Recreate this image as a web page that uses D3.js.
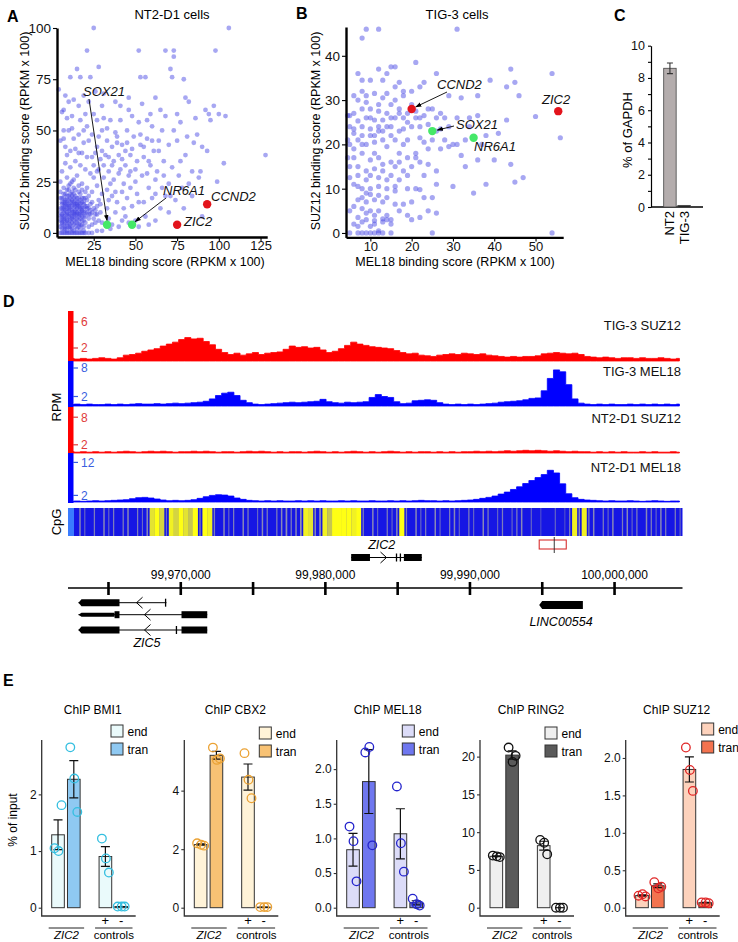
<!DOCTYPE html>
<html><head><meta charset="utf-8">
<script src="https://cdn.jsdelivr.net/npm/d3@7/dist/d3.min.js"></script>
<style>
html,body{margin:0;padding:0;background:#fff;}
svg{display:block;font-family:"Liberation Sans",Arial,Helvetica,sans-serif;}
</style></head><body>
<svg id="fig" width="738" height="942"></svg>
<script>
// ================= DATA =================
// Panel A: NT2-D1 cells, MEL18 score (x) vs SUZ12 score (y)
const nt2Points = [[25,100],[106,100],[21,89],[52,89],[68,89],[73,89],[98,89],[73,86],[71,80],[79,75],[28,81],[15,80],[11,76],[17,76],[23,76],[53,76],[56,76],[72,76],[4,70],[10,64],[13,65],[7,60],[22,64],[26,69],[30,62],[38,64],[46,60],[54,63],[62,66],[68,57],[80,66],[82,64],[92,60],[94,58],[100,58],[97,62],[104,57],[86,56],[77,54],[73,50],[66,50],[60,52],[57,55],[52,54],[48,57],[41,55],[35,55],[31,56],[27,55],[25,58],[20,58],[17,55],[12,57],[9,56],[6,59],[128,38],[103,34],[90,42],[87,48],[81,47],[75,45],[70,43],[64,45],[61,40],[57,46],[53,43],[49,47],[45,50],[42,43],[39,47],[36,42],[33,45],[30,50],[28,47],[24,48],[22,45],[19,50],[16,48],[13,46],[10,50],[7,50],[5,45],[8,42],[11,40],[14,41],[18,39],[21,37],[26,39],[29,36],[34,37],[37,35],[40,38],[44,33],[47,38],[51,35],[55,37],[59,33],[63,30],[67,35],[72,32],[76,28],[80,38],[84,30],[88,27],[78,22],[70,24],[66,22],[62,26],[58,22],[54,28],[50,25],[46,28],[43,24],[40,29],[37,26],[34,30],[31,27],[28,31],[25,33],[23,29],[20,31],[17,33],[14,35],[11,32],[8,34],[6,30],[5,25],[9,27],[12,25],[15,28],[18,24],[21,22],[24,20],[27,23],[30,19],[33,21],[36,18],[39,15],[42,20],[45,17],[48,13],[51,19],[55,15],[60,17],[65,12],[70,10],[56,8],[44,8],[38,10],[33,12],[29,14],[26,11],[23,9],[21,13],[19,17],[16,20],[13,22],[10,21],[7,19],[5,17],
[5,12],[6,14],[7,10],[8,15],[9,12],[10,16],[11,9],[12,13],[13,17],[14,11],[15,14],[16,8],[17,12],[18,15],[19,10],[20,13],[5,8],[6,6],[7,4],[8,9],[9,7],[10,5],[11,11],[12,8],[13,6],[14,9],[15,5],[16,11],[17,7],[18,4],[19,6],[20,8],[21,10],[22,7],[5,3],[6,2],[7,7],[8,5],[9,3],[10,8],[11,4],[12,2],[13,10],[14,3],[15,9],[16,4],[17,2],[18,8],[19,3],[20,5],[6,17],[7,13],[8,11],[9,18],[10,13],[11,15],[12,18],[13,14],[14,16],[15,12],[16,15],[17,16],[18,11],[19,14],[21,16],[22,12],[23,14],[24,10],[25,7],[26,5],[27,9],[28,6],[24,4],[22,3],
[5,0],[6,0],[7,0],[8,0],[9,0],[10,0],[11,0],[12,0],[13,0],[14,0],[15,0],[16,0],[17,0],[18,0],[19,0],[20,0],[22,0],[24,0],[27,1],[30,1],[35,2],[40,3],[42,6],[46,5],[50,6],[52,3],[58,4],[62,6],[30,5],[34,7],[36,4],
[95,55],[85,44],[93,40],[89,30],[99,25],[84,18],[74,16],[68,18],[79,12],[90,8],[64,40],[57,29],[47,22],[35,24],[31,33],[42,36],[48,41],[53,48],[27,42],[33,51],[38,49],[24,37],[19,44],[16,39],[9,38],[7,46],[12,51],[21,52],[75,58],[65,60],[59,58],[46,66],[41,62],[31,68],[19,67],[16,62],[8,67],
[6,9],[7,11],[8,13],[9,9],[10,11],[11,13],[12,10],[13,12],[14,14],[15,10],[16,13],[17,10],[8,7],[10,3],[12,5],[14,7],[16,6],[18,6],[7,15],[9,14],[11,17],[13,19],[15,17],[17,19],[10,18],[12,15],[14,13],[9,5],[11,6],[13,4],[7,2],[9,1],[11,2],[13,1],[15,2],[17,4],[19,1],[6,5],[8,3],
[5,10],[6,12],[7,8],[8,14],[9,10],[10,12],[11,7],[12,11],[13,15],[14,10],[15,13],[16,9],[17,14],[18,12],[19,8],[6,4],[7,6],[8,2],[9,6],[10,9],[11,3],[12,7],[13,9],[14,5],[15,7],[16,3],[17,9],[18,10],[19,12],[20,10],[5,6],[6,8],[7,12],[8,16],[9,16],[10,14],[11,19],[12,16],[13,8],[14,18],[15,15],[16,17],[17,13],[18,17],[19,15],[20,17],[21,12],[22,9],[23,11],[6,15],[7,17],[8,19],[9,21],[10,23],[12,20],[14,21],[16,23],[18,21],[11,24],[13,26],[7,22],[5,20],[20,20],[22,18],[24,15],[25,12],[26,9],[27,13],[28,16],[29,10],
[32,38],[36,33],[41,31],[44,40],[50,31],[55,42],[60,45],[34,16],[38,20],[43,12],[47,30],[52,15],[58,35],[62,19],[67,28],[71,18],[77,35],[82,24],[25,27],[30,40],[27,30],[39,44],[45,44]];
const nt2Marked = [{gene:"SOX21",x:33,y:4,group:"green"},{gene:"NR6A1",x:48,y:4,group:"green"},{gene:"ZIC2",x:75,y:4,group:"red"},{gene:"CCND2",x:93,y:14,group:"red"}];

// Panel B: TIG-3 cells
const tig3Points = [[9,46],[12,46],[31,46],[8,44],[21,38.5],[15,37.5],[16,37.5],[14,36],[12,37],[7,36],[8,34.5],[13,34.5],[10,34.5],[17,34],[23,34],[26,36],[44,37],[54,36],[45,34],[39,34.5],[43,33],[46,31],[29,31],[36,31],[22,33],[20,32],[18,32],[11,31.5],[9,31],[6,31],[13,30.5],[16,30],[15,29],[10,28],[12,27.5],[17,28],[8,28],[6,27],[5,26.5],[7,25.3],[9,26],[11,25.5],[13,25.5],[14,27],[16,26],[18,26],[21,26],[22,26],[23,26.5],[24,28],[25,28],[21,27.5],[27,27],[31,26],[36,26.5],[34,24],[29,24],[24,24.5],[26,23],[20,24],[18,23.5],[15,24],[12,24],[10,23.5],[8,22],[6,22.5],[4.5,21],[5,20],[7,21],[9,20],[11,20.5],[13,21],[14,19.5],[16,21],[18,20],[19,21],[22,21.5],[23,20.5],[28,21],[30,20],[29,19.5],[33,21],[31,20],[50,26.3],[56,21.5],[43,25.5],[41,22.5],[38,22],[27,19],[32,17.5],[33,15],[36,16.5],[37,20],[24,19],[21,18],[17,18],[15,16],[12,17],[10,16.5],[8,18],[6,17],[4.5,17],[5,15],[7,15],[9,14],[11,14.5],[13,14],[16,15],[18,14],[20,15],[22,16],[24,15.5],[26,14],[23,13],[19,13],[17,12],[14,12],[12,12.5],[9,12],[7,13],[5,12.5],[6,11],[8,10],[10,10],[12,10.5],[14,10],[16,9.5],[19,10],[21,10],[22,9.8],[26,11],[30,10.5],[38,11],[45,11.5],[47,12.5],[44,15.5],[40,16.5],[35,9],[25,8],[23,8],[20,7],[18,6.5],[16,6.5],[13,7],[11,7.5],[9,7],[7,7.5],[6,6],[5,5],[8,5.5],[10,5],[12,5],[14,4],[17,5],[19,4],[24,5],[26,4.5],[22,3.5],[20,3],[15,3],[13,3.2],[11,2.8],[9,3],[8,2.5],[7,3.5],[9,4.5],[11,2],[13,2.5],[15,2],[14,3],[7,1.5],[6,2],[5,0],[7,0],[8,0],[9,0],[10,0],[11,0],[12,0],[13,0],[15,0],[25,0],[54,0],[10,1.5],[12,0.5],[11,4],[9,9],[7,10.5],[10,13],[13,15.5],[15,13],[17,16],[19,17],[21,17],[11,18],[6,19],[8,24],[10,26],[12,29],[14,31.5],[16,33],[18,31],[20,29],[11,22],[13,23],[15,22],[17,23],[19,25],[9,29.5],[8,32],[7,30],[6,23.5],[5,24],[4.5,26.5],[32,30.5],[34,26],[28,26],[25,21],[27,23.5],[26,26],[22,24],[19,27],[17,27],[15,26],[14,24],[12,23],[10,22],[8,20],[16,10.5],[14,8],[12,8.5],[10,8.7],[8,8]];
const tig3Marked = [{gene:"CCND2",x:20,y:28,group:"red"},{gene:"SOX21",x:25,y:23,group:"green"},{gene:"NR6A1",x:35,y:21.5,group:"green"},{gene:"ZIC2",x:55.5,y:27.5,group:"red"}];

const scatterXTicksA = [25,50,75,100,125];
const scatterYTicksA = [0,25,50,75,100];
const scatterXTicksB = [10,20,30,40,50];
const scatterYTicksB = [0,10,20,30,40];

// Panel C: ZIC2 expression
const gapdhCells = ["NT2","TIG-3"];
const gapdhValues = [8.6, 0.1];
const gapdhErrors = [0.33, 0];
const gapdhTicks = [0,1,2,3,4,5,6,7,8,9,10];

// Panel D: genome tracks (RPM per 425-bp bin)
const regionStart = 99962200, regionEnd = 100004700;
const trackNames = ["TIG-3 SUZ12","TIG-3 MEL18","NT2-D1 SUZ12","NT2-D1 MEL18"];
const trackTicks = [[2,6],[2,8],[2,8],[2,12]];
const tig3Suz12 = [0.4,0.3,0.4,0.3,0.4,0.5,0.4,0.3,0.5,0.9,1.0,1.2,1.5,1.7,1.9,2.3,2.6,2.9,3.3,3.6,3.4,3.5,3.0,2.5,1.8,1.3,1.0,1.2,0.9,1.1,1.3,1.0,1.2,1.3,1.4,1.8,2.3,2.1,2.2,2.0,2.1,1.7,1.3,1.5,1.9,2.4,2.9,2.6,2.4,2.2,2.1,2.0,1.9,1.6,1.3,1.1,1.2,0.9,0.8,0.7,0.9,1.0,1.1,1.0,1.2,1.1,1.0,1.1,0.9,0.8,0.7,0.6,0.7,0.6,0.7,0.7,0.8,1.1,1.2,1.3,1.2,1.1,1.2,1.0,0.7,0.6,0.5,0.6,0.5,0.4,0.5,0.5,0.4,0.5,0.4,0.4,0.5,0.4,0.3,0.4];
const tig3Mel18 = [0.3,0.4,0.3,0.4,0.3,0.3,0.4,0.3,0.4,0.3,0.4,0.5,0.4,0.4,0.5,0.4,0.5,0.6,0.5,0.6,0.7,0.8,1.0,1.5,2.2,2.7,2.9,2.2,1.2,0.7,0.4,0.3,0.4,0.5,0.6,0.7,0.8,0.7,0.8,0.9,1.0,1.4,0.9,0.7,0.6,0.8,0.7,0.8,0.9,1.8,2.4,2.0,1.8,0.9,0.5,0.6,1.1,1.2,1.3,1.2,0.7,0.4,0.3,0.4,0.3,0.4,0.3,0.4,0.5,0.6,0.8,0.9,1.0,1.1,1.3,1.6,1.7,3.2,5.8,7.6,7.2,4.5,1.5,0.6,0.4,0.3,0.4,0.3,0.4,0.3,0.3,0.4,0.3,0.4,0.3,0.4,0.3,0.4,0.3,0.4];
const nt2Suz12 = [0.5,0.4,0.5,0.4,0.5,0.4,0.5,0.4,0.5,0.6,0.5,0.4,0.5,0.6,0.5,0.6,0.5,0.4,0.5,0.5,0.6,0.5,0.6,0.5,0.4,0.5,0.5,0.4,0.5,0.6,0.5,0.6,0.5,0.4,0.5,0.4,0.5,0.5,0.4,0.5,0.6,0.5,0.4,0.5,0.4,0.5,0.6,0.5,0.4,0.5,0.4,0.5,0.6,0.5,0.4,0.5,0.4,0.5,0.5,0.4,0.5,0.4,0.5,0.4,0.5,0.5,0.6,0.5,0.6,0.5,0.6,0.7,0.6,0.7,0.8,0.7,0.8,0.7,0.6,0.7,0.6,0.5,0.6,0.5,0.5,0.4,0.5,0.4,0.5,0.4,0.5,0.4,0.4,0.5,0.4,0.5,0.4,0.4,0.5,0.4];
const nt2Mel18 = [0.2,0.3,0.2,0.3,0.4,0.3,0.4,0.5,0.6,0.7,1.0,1.3,1.4,1.2,0.9,0.6,0.4,0.5,0.4,0.5,0.7,1.1,1.6,2.0,2.2,2.1,1.8,1.2,0.8,0.5,0.4,0.3,0.4,0.3,0.4,0.3,0.3,0.4,0.3,0.4,0.3,0.4,0.3,0.3,0.4,0.3,0.4,0.3,0.3,0.4,0.3,0.3,0.4,0.3,0.4,0.3,0.4,0.5,0.4,0.4,0.3,0.4,0.3,0.4,0.5,0.6,0.8,1.1,1.4,1.8,2.4,3.0,3.8,4.6,5.6,6.5,7.4,8.3,9.6,8.8,5.5,2.5,1.3,0.8,0.6,0.5,0.4,0.3,0.4,0.3,0.3,0.4,0.3,0.2,0.3,0.4,0.3,0.2,0.3,0.3];
// CpG density per 332-bp bin (0 = none, 1 = high)
const cpgDensity = [0.3,0,0.4,0.2,0,0.3,0,0.4,0.2,0.3,0,0.3,0.4,0,0.3,0.2,0.4,0.8,1,0.7,0.2,0.9,0.7,1,0.8,0.6,1,0.3,1,0.9,0.3,0,0.4,0.2,0.3,0,0.4,0.3,0,0.2,0.4,0.3,0,0.3,0.4,0.5,0.3,0.4,0.5,0.9,0.8,0.4,0.5,0.9,0.6,1,1,1,1,0.9,1,0.3,0,0.4,0.2,0,0.3,0.2,0.4,1,0.3,0,0.4,0.2,0.3,0,0.4,0.2,0,0.3,0.4,0.2,0,0.3,0.2,0,0.4,0.3,0,0.2,0.3,0,0.2,0.3,0.4,0,0.2,0,0.1,0,0,0.2,0,0.1,0.3,0.9,0.4,0.9,0.3,0.4,0,0.3,0.2,0.4,0,0.3,0.4,0.2,0.3,0,0.4,0.3,0.2,0.4,0.3,0,0.3,0.2];
const genomicTicks = [99965000,99970000,99975000,99980000,99985000,99990000,99995000,100000000];
const genomicLabels = [99970000,99980000,99990000,100000000];
const zic2Gene = {name:"ZIC2", strand:"+", intronMark:99984020, exons:[[99981784,99983085],[99984920,99985070],[99985190,99985320],[99985430,99986667]]};
const zic5Transcripts = [
  {strand:"-", intronMark:99967150, exons:[[99962925,99965760],[99968950,99969010]]},
  {strand:"-", intronMark:99967700, utr:[99962925,99965420], exons:[[99965420,99965760],[99970050,99971830]]},
  {strand:"-", intronMark:99967700, exons:[[99962925,99965760],[99969700,99969750],[99970050,99971830]]}
];
const lincGene = {name:"LINC00554", exons:[[99994790,99997810]]};
const ampliconRegion = [99994790, 99996660];
const ampliconCenter = 99995830;

// Panel E: ChIP-qPCR, % of input, 3 replicates per group [ZIC2 end, ZIC2 tran, control +, control -]
const chipTargets = ["BMI1","CBX2","MEL18","RING2","SUZ12"];
const bmi1Reps  = [[1.05,1.0,1.81],[2.83,2.28,1.69],[1.22,0.87,0.62],[0.02,0.02,0.02]];
const cbx2Reps  = [[2.2,2.15,2.12],[5.47,5.05,5.1],[5.28,4.37,3.74],[0.02,0.02,0.02]];
const mel18Reps = [[1.17,0.96,0.38],[2.24,2.32,0.9],[1.75,0.93,0.52],[0.13,0.05,0.03]];
const ring2Reps = [[6.9,6.8,6.7],[21.2,19.3,20.1],[8.97,8.6,7.07],[0.0,0.0,0.0]];
const suz12Reps = [[0.16,0.18,0.15],[0.34,0.26,0.28],[2.14,1.84,1.56],[0.07,0.07,0.06]];
const bmi1Ticks = [0,1,2], cbx2Ticks = [0,2,4], mel18Ticks = [0,0.5,1,1.5,2], ring2Ticks = [0,5,10,15,20], suz12Ticks = [0,0.5,1,1.5,2];
const chipAxisMax = [2.96, 5.73, 2.42, 22.2, 2.24];
const legendLabels = ["end","tran"];

// ================= DRAWING =================
const FONT = '"Liberation Sans",Arial,Helvetica,sans-serif';
const svg = d3.select("#fig");
const defs = svg.append("defs");
defs.append("marker").attr("id","arr").attr("viewBox","0 0 10 10").attr("refX",9).attr("refY",5)
  .attr("markerWidth",7).attr("markerHeight",7).attr("orient","auto")
  .append("path").attr("d","M0,1.5L10,5L0,8.5Z").attr("fill","#000");

function styleAxis(a, fs, domainW, color){
  a.attr("font-family",FONT).attr("font-size",fs);
  a.select(".domain").attr("stroke",color||"#000").attr("stroke-width",domainW);
  a.selectAll(".tick line").attr("stroke",color||"#000").attr("stroke-width",1.1);
  a.selectAll(".tick text").attr("fill","#111");
}
function panelLetter(t,x,y){
  svg.append("text").attr("x",x).attr("y",y).text(t).attr("font-weight","bold").attr("font-size",16).attr("fill","#000");
}

// ---------- scatter panels ----------
const markColor = {red:"#e3141c", green:"#45e868"};
function scatter(cfg){
  const g = svg.append("g");
  const x = d3.scaleLinear().domain(cfg.xDomain).range(cfg.xRange);
  const y = d3.scaleLinear().domain(cfg.yDomain).range(cfg.yRange);
  g.append("g").selectAll("circle").data(cfg.points).join("circle")
    .attr("cx",d=>x(d[0])).attr("cy",d=>y(d[1])).attr("r",cfg.r)
    .attr("fill","rgb(72,72,228)").attr("fill-opacity",0.48);
  const ya = g.append("g").attr("transform",`translate(${cfg.xRange[0]},0)`)
    .call(d3.axisLeft(y).tickValues(cfg.yTicks).tickSize(4).tickSizeOuter(0).tickPadding(2));
  const xa = g.append("g").attr("transform",`translate(0,${cfg.yRange[0]})`)
    .call(d3.axisBottom(x).tickValues(cfg.xTicks).tickSize(4).tickSizeOuter(0).tickPadding(0));
  styleAxis(ya,13.5,2.4); styleAxis(xa,13,2.4);
  cfg.marked.forEach(m=>{
    const L = cfg.labels[m.gene];
    if(L.line){
      g.append("line").attr("x1",L.line[0]).attr("y1",L.line[1]).attr("x2",x(m.x)+L.end[0]).attr("y2",y(m.y)+L.end[1])
        .attr("stroke","#000").attr("stroke-width",0.9).attr("marker-end","url(#arr)");
    }
    g.append("text").attr("x",L.tx).attr("y",L.ty).text(m.gene).attr("font-style","italic").attr("font-size",13).attr("fill","#111");
  });
  g.append("g").selectAll("circle").data(cfg.marked).join("circle")
    .attr("cx",d=>x(d.x)).attr("cy",d=>y(d.y)).attr("r",4.2).attr("fill",d=>markColor[d.group]);
  g.append("text").attr("x",cfg.titleX).attr("y",19).attr("text-anchor","middle").attr("font-size",13).text(cfg.title);
  g.append("text").attr("transform",`translate(${cfg.yLabelX},131) rotate(-90)`).attr("text-anchor","middle").attr("font-size",12.5).text("SUZ12 binding score (RPKM x 100)");
  g.append("text").attr("x",cfg.xLabelX).attr("y",265.5).attr("text-anchor","middle").attr("font-size",12.5).text("MEL18 binding score (RPKM x 100)");
}
scatter({points:nt2Points, marked:nt2Marked, xDomain:[3,129], xRange:[57,267.2], yDomain:[-2,100], yRange:[237,28],
  xTicks:scatterXTicksA, yTicks:scatterYTicksA, r:2.4, title:"NT2-D1 cells", titleX:172, yLabelX:29, xLabelX:165,
  labels:{SOX21:{tx:83,ty:96,line:[89,99],end:[0,-4]}, NR6A1:{tx:163,ty:195,line:[166,198],end:[3,-3]},
          CCND2:{tx:211,ty:201}, ZIC2:{tx:184,ty:226}}});
scatter({points:tig3Points, marked:tig3Marked, xDomain:[4.1,56.7], xRange:[346,563.2], yDomain:[-1,46.5], yRange:[237.4,27],
  xTicks:scatterXTicksB, yTicks:scatterYTicksB, r:2.6, title:"TIG-3 cells", titleX:457, yLabelX:320, xLabelX:455,
  labels:{CCND2:{tx:437,ty:89,line:[447,92],end:[4,-2]}, SOX21:{tx:456,ty:129,line:[454,126],end:[5,-1]},
          NR6A1:{tx:474,ty:151}, ZIC2:{tx:542,ty:104}}});
panelLetter("A",7,22); panelLetter("B",296,19); panelLetter("C",614,21);

// ---------- panel C ----------
(function(){
  const g = svg.append("g");
  const y = d3.scaleLinear().domain([0,10]).range([207,45.7]);
  const x = d3.scaleBand().domain(gapdhCells).range([663,691]).paddingInner(0.12).paddingOuter(0.05);
  const ya = g.append("g").attr("transform","translate(651,0)")
    .call(d3.axisLeft(y).tickValues(gapdhTicks).tickSize(3).tickSizeOuter(0).tickFormat(d=>d%2===0?d:""));
  styleAxis(ya,12.5,1.2);
  g.append("line").attr("x1",651).attr("x2",703).attr("y1",207).attr("y2",207).attr("stroke","#000").attr("stroke-width",1.3);
  g.selectAll("rect").data(gapdhValues).join("rect")
    .attr("x",(d,i)=>x(gapdhCells[i])).attr("width",x.bandwidth())
    .attr("y",d=>y(d)).attr("height",d=>207-y(d))
    .attr("fill",(d,i)=>i===0?"#b4adad":"#111").attr("stroke","#444").attr("stroke-width",0.8);
  gapdhValues.forEach((v,i)=>{
    if(!gapdhErrors[i]) return;
    const cx = x(gapdhCells[i])+x.bandwidth()/2;
    g.append("path").attr("d",`M${cx},${y(v-gapdhErrors[i])}V${y(v+gapdhErrors[i])}M${cx-3},${y(v-gapdhErrors[i])}H${cx+3}M${cx-3},${y(v+gapdhErrors[i])}H${cx+3}`)
      .attr("stroke","#333").attr("stroke-width",1.1).attr("fill","none");
  });
  gapdhCells.forEach(c=>{
    g.append("text").attr("transform",`translate(${x(c)+x.bandwidth()/2+4.5},211) rotate(-90)`).attr("text-anchor","end").attr("font-size",13).text(c);
  });
  g.append("text").attr("transform","translate(632,130) rotate(-90)").attr("text-anchor","middle").attr("font-size",13).text("% of GAPDH");
})();

// ---------- panel D ----------
panelLetter("D",3,307);
const gx = d3.scaleLinear().domain([regionStart,regionEnd]).range([68,682.5]);
(function(){
  const g = svg.append("g");
  const tracks = [tig3Suz12,tig3Mel18,nt2Suz12,nt2Mel18];
  const lay = [
    {top:311,bottom:361,base:361,ppu:6.5, color:"#ff0000", tcol:"#e03a3a", labelY:330},
    {top:361,bottom:407,base:406,ppu:4.75,color:"#0000ff", tcol:"#3a5ee0", labelY:375.5},
    {top:407,bottom:453,base:454,ppu:4.6, color:"#ff0000", tcol:"#e03a3a", labelY:423},
    {top:453,bottom:503,base:502,ppu:3.3, color:"#0000ff", tcol:"#3a5ee0", labelY:472}];
  const bin = (regionEnd-regionStart)/100;
  tracks.forEach((vals,k)=>{
    const L = lay[k];
    const y = d3.scaleLinear().domain([0,1]).range([L.base, L.base-L.ppu]);
    const area = d3.area().x((d,i)=>gx(regionStart+(i+0.5)*bin)).y0(Math.min(L.base,L.bottom)).y1(d=>y(d)).curve(d3.curveStep);
    g.append("path").datum(vals).attr("d",area).attr("fill",L.color).attr("stroke",L.color).attr("stroke-width",0.8);
    g.append("rect").attr("x",68).attr("y",L.top).attr("width",5.5).attr("height",L.bottom-L.top).attr("fill",L.color);
    trackTicks[k].forEach(t=>{
      g.append("line").attr("x1",73).attr("x2",78).attr("y1",y(t)).attr("y2",y(t)).attr("stroke",L.tcol).attr("stroke-width",1.2);
      g.append("text").attr("x",81).attr("y",y(t)).attr("dy","0.36em").attr("font-size",12).attr("fill",L.tcol).text(t);
    });
    g.append("text").attr("x",681).attr("y",L.labelY).attr("text-anchor","end").attr("font-size",13).attr("fill","#111").text(trackNames[k]);
  });
  g.append("text").attr("transform","translate(61,407) rotate(-90)").attr("text-anchor","middle").attr("font-size",13).text("RPM");
  // CpG track: blue background, thin grey streaks for low density, yellow blocks for CpG-rich bins
  const cb = (regionEnd-regionStart)/cpgDensity.length;
  const yellow = d3.scaleLinear().domain([0.5,1]).range(["#b8b860","#ffff14"]);
  g.append("rect").attr("x",68).attr("y",508).attr("width",614.5).attr("height",28).attr("fill","#1616e4");
  g.append("g").selectAll("rect").data(cpgDensity).join("rect")
    .attr("x",(d,i)=>{const a=gx(regionStart+i*cb), b=gx(regionStart+(i+1)*cb); return d>=0.6? a : (a+b)/2 - (0.6+d*2.2)/2;})
    .attr("width",(d,i)=>{const a=gx(regionStart+i*cb), b=gx(regionStart+(i+1)*cb); return d>=0.6? b-a+0.3 : (d>0? 0.6+d*2.2 : 0);})
    .attr("y",508).attr("height",28)
    .attr("fill",d=>d>=0.6? yellow(d) : "#8e8eb4").attr("fill-opacity",d=>d>=0.6?1:0.55+d);
  g.append("rect").attr("x",68).attr("y",508).attr("width",6).attr("height",28).attr("fill","#3a7cff");
  g.append("text").attr("transform","translate(61,522) rotate(-90)").attr("text-anchor","middle").attr("font-size",13).text("CpG");
  // amplicon box
  g.append("rect").attr("x",gx(ampliconRegion[0])).attr("y",540).attr("width",gx(ampliconRegion[1])-gx(ampliconRegion[0])).attr("height",9)
    .attr("fill","none").attr("stroke","#d83030").attr("stroke-width",1.1);
  g.append("line").attr("x1",gx(ampliconCenter)).attr("x2",gx(ampliconCenter)).attr("y1",537).attr("y2",553).attr("stroke","#222").attr("stroke-width",0.9);
  // genes
  function chevron(xp,yp,strand){
    const d = strand==="+" ? `M${xp-3},${yp-5.5}L${xp+3},${yp}L${xp-3},${yp+5.5}` : `M${xp+3},${yp-5.5}L${xp-3},${yp}L${xp+3},${yp+5.5}`;
    g.append("path").attr("d",d).attr("fill","none").attr("stroke","#000").attr("stroke-width",1);
  }
  function exonBox(a,b,yc,h,pointLeft,pointRight){
    const x0=gx(a), x1=gx(b), t=yc-h/2, bt=yc+h/2, p=3;
    const d = `M${pointLeft?x0+p:x0},${t}L${pointRight?x1-p:x1},${t}L${x1},${pointRight?yc:t}L${pointRight?x1-p:x1},${bt}L${pointLeft?x0+p:x0},${bt}L${x0},${pointLeft?yc:bt}Z`;
    g.append("path").attr("d",d).attr("fill","#000");
  }
  function drawTranscript(tr,yc,h){
    const all = tr.exons.concat(tr.utr?[tr.utr]:[]);
    const lo = d3.min(all,e=>e[0]), hi = d3.max(all,e=>e[1]);
    g.append("line").attr("x1",gx(lo)).attr("x2",gx(hi)).attr("y1",yc).attr("y2",yc).attr("stroke","#000").attr("stroke-width",1);
    if(tr.utr) exonBox(tr.utr[0],tr.utr[1],yc,4,true,false);
    tr.exons.forEach(e=>{
      const w = gx(e[1])-gx(e[0]);
      if(w<3){ g.append("line").attr("x1",gx(e[0])).attr("x2",gx(e[0])).attr("y1",yc-4).attr("y2",yc+4).attr("stroke","#000").attr("stroke-width",1.3); }
      else exonBox(e[0],e[1],yc,h, tr.strand==="-" && e[0]===lo && !tr.utr, false);
    });
    chevron(gx(tr.intronMark),yc,tr.strand);
  }
  drawTranscript(zic2Gene,557.5,7);
  g.append("text").attr("x",gx(99983900)).attr("y",549).attr("text-anchor","middle").attr("font-style","italic").attr("font-size",12.5).text("ZIC2");
  [602.7,614.7,630].forEach((yc,i)=>drawTranscript(zic5Transcripts[i],yc,7));
  g.append("text").attr("x",147).attr("y",647).attr("text-anchor","middle").attr("font-style","italic").attr("font-size",12.5).text("ZIC5");
  exonBox(lincGene.exons[0][0],lincGene.exons[0][1],605,8,true,false);
  g.append("text").attr("x",gx(99996300)).attr("y",625.5).attr("text-anchor","middle").attr("font-style","italic").attr("font-size",12.5).text("LINC00554");
  // coordinate axis
  g.append("line").attr("x1",68).attr("x2",682.5).attr("y1",588).attr("y2",588).attr("stroke","#000").attr("stroke-width",1.5);
  g.selectAll("line.gt").data(genomicTicks).join("line").attr("class","gt")
    .attr("x1",d=>gx(d)).attr("x2",d=>gx(d)).attr("y1",582).attr("y2",595).attr("stroke","#000").attr("stroke-width",2.6);
  g.selectAll("text.gl").data(genomicLabels).join("text").attr("class","gl")
    .attr("x",d=>gx(d)).attr("y",579).attr("text-anchor","middle").attr("font-size",12).text(d=>d3.format(",")(d));
})();

// ---------- panel E ----------
panelLetter("E",3,686);
const chipReps = [bmi1Reps,cbx2Reps,mel18Reps,ring2Reps,suz12Reps];
const chipTicks = [bmi1Ticks,cbx2Ticks,mel18Ticks,ring2Ticks,suz12Ticks];
const chipStyle = [
  {ax:41.7, end:"#eafafb", tran:"#8fc9f2", pt:"#34bfe0", fmt:"d",  legX:69.3, legY:725},
  {ax:184.3,end:"#fff3d8", tran:"#f8c274", pt:"#eba234", fmt:"d",  legX:75,   legY:727},
  {ax:336.7,end:"#dcdcf8", tran:"#6f77ef", pt:"#2424cc", fmt:".1f",legX:65.6, legY:725},
  {ax:480,  end:"#efefef", tran:"#5a5a5a", pt:"#111111", fmt:"d",  legX:65,   legY:727},
  {ax:625.7,end:"#fdd2bc", tran:"#f3734f", pt:"#e02626", fmt:".1f",legX:76,   legY:723}];
const jitter = [-3.5,0.5,3.5];
chipTargets.forEach((name,k)=>{
  const S = chipStyle[k], reps = chipReps[k];
  const g = svg.append("g");
  const y = d3.scaleLinear().domain([0,chipAxisMax[k]]).range([907.7,740]);
  const xb = d3.scaleBand().domain(["e1","t1","gap","e2","t2"]).range([S.ax+10,S.ax+85.8]).paddingInner(0.2).paddingOuter(0);
  const slots = ["e1","t1","e2","t2"], bw = xb.bandwidth();
  const ya = g.append("g").attr("transform",`translate(${S.ax},0)`)
    .call(d3.axisLeft(y).tickValues(chipTicks[k]).tickSize(3).tickSizeOuter(0).tickPadding(2).tickFormat(d3.format(S.fmt)));
  styleAxis(ya,12,0,"#333"); ya.select(".domain").remove();
  g.append("path").attr("d",`M${S.ax},740V916H${S.ax+94}`).attr("fill","none").attr("stroke","#333").attr("stroke-width",1.3);
  reps.forEach((r,i)=>{
    const m = d3.mean(r), se = (d3.deviation(r)||0)/Math.sqrt(r.length);
    const x0 = xb(slots[i]), cx = x0+bw/2;
    g.append("rect").attr("x",x0).attr("width",bw).attr("y",y(m)).attr("height",Math.max(0,907.7-y(m)))
      .attr("fill",i%2===0?S.end:S.tran).attr("stroke","#333").attr("stroke-width",1);
    if(se>0) g.append("path").attr("d",`M${cx},${y(m-se)}V${y(m+se)}M${cx-4.5},${y(m-se)}H${cx+4.5}M${cx-4.5},${y(m+se)}H${cx+4.5}`)
      .attr("fill","none").attr("stroke","#111").attr("stroke-width",1.2);
    else g.append("line").attr("x1",cx-4.5).attr("x2",cx+4.5).attr("y1",y(m)).attr("y2",y(m)).attr("stroke","#111").attr("stroke-width",1.2);
    r.forEach((v,j)=>{
      g.append("circle").attr("cx",cx+jitter[j]).attr("cy",y(v)).attr("r",4.3).attr("fill","none").attr("stroke",S.pt).attr("stroke-width",1.3);
    });
  });
  g.append("text").attr("x",S.ax+51).attr("y",714).attr("text-anchor","middle").attr("font-size",12).text("ChIP "+name);
  legendLabels.forEach((lab,i)=>{
    g.append("rect").attr("x",S.ax+S.legX).attr("y",S.legY+i*18).attr("width",12).attr("height",12)
      .attr("fill",i===0?S.end:S.tran).attr("stroke","#333").attr("stroke-width",1);
    g.append("text").attr("x",S.ax+S.legX+16.5).attr("y",S.legY+i*18+10.5).attr("font-size",12).text(lab);
  });
  const z0 = xb("e1")-3, z1 = xb("t1")+bw+4, c0 = xb("e2")-4, c1 = xb("t2")+bw+5;
  g.append("line").attr("x1",z0).attr("x2",z1).attr("y1",928).attr("y2",928).attr("stroke","#222").attr("stroke-width",1);
  g.append("line").attr("x1",c0).attr("x2",c1).attr("y1",928).attr("y2",928).attr("stroke","#222").attr("stroke-width",1);
  g.append("text").attr("x",(z0+z1)/2).attr("y",938.5).attr("text-anchor","middle").attr("font-style","italic").attr("font-size",11.5).text("ZIC2");
  g.append("text").attr("x",(c0+c1)/2).attr("y",938.5).attr("text-anchor","middle").attr("font-size",11.5).text("controls");
  g.append("text").attr("x",xb("e2")+bw/2).attr("y",925).attr("text-anchor","middle").attr("font-size",13).text("+");
  g.append("text").attr("x",xb("t2")+bw/2).attr("y",925).attr("text-anchor","middle").attr("font-size",13).text("-");
  if(k===0) g.append("text").attr("transform","translate(17,820) rotate(-90)").attr("text-anchor","middle").attr("font-size",12).text("% of input");
});
</script></body></html>
